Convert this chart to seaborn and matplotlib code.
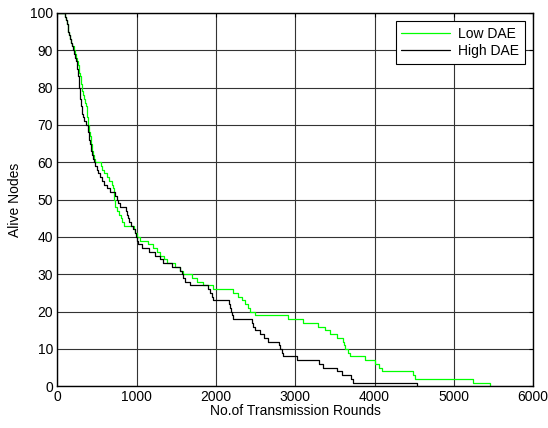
import numpy as np
import pandas as pd
import seaborn as sns
import matplotlib
matplotlib.use("Agg")
import matplotlib.pyplot as plt

# Alive-node counts and the round at which each count is first reached,
# read off the reference chart (one entry per node lost)
alive = [100,
         99, 98, 97, 96, 95, 94, 93, 92, 91, 90,
         89, 88, 87, 86, 85, 84, 83, 82, 81, 80,
         79, 78, 77, 76, 75, 74, 73, 72, 71, 70,
         69, 68, 67, 66, 65, 64, 63, 62, 61, 60,
         59, 58, 57, 56, 55, 54, 53, 52, 51, 50,
         49, 48, 47, 46, 45, 44, 43, 42, 41, 40,
         39, 38, 37, 36, 35, 34, 33, 32, 31, 30,
         29, 28, 27, 26, 25, 24, 23, 22, 21, 20,
         19, 18, 17, 16, 15, 14, 13, 12, 11, 10,
         9, 8, 7, 6, 5, 4, 3, 2, 1, 0]

low_rounds = [0,
              92, 110, 122, 132, 140, 148, 160, 172, 190, 210,
              225, 237, 248, 260, 270, 278, 285, 292, 298, 306,
              314, 320, 330, 348, 360, 369, 374, 378, 382, 388,
              394, 400, 410, 418, 425, 433, 442, 450, 460, 478,
              555, 565, 584, 625, 645, 689, 705, 712, 716, 720,
              724, 728, 750, 773, 800, 820, 840, 960, 983, 1004,
              1046, 1147, 1200, 1252, 1300, 1340, 1378, 1483, 1540, 1588,
              1693, 1757, 1840, 1962, 2218, 2281, 2330, 2366, 2400, 2429,
              2492, 2912, 3101, 3290, 3380, 3438, 3522, 3606, 3615, 3627,
              3660, 3690, 3879, 4005, 4050, 4089, 4490, 4510, 5245, 5455]

high_rounds = [0,
               90, 105, 118, 132, 140, 150, 162, 172, 185, 200,
               215, 225, 233, 242, 250, 258, 264, 268, 274, 278,
               282, 287, 291, 295, 299, 305, 315, 327, 340, 355,
               388, 392, 396, 404, 412, 418, 428, 436, 446, 457,
               475, 495, 518, 541, 565, 584, 625, 667, 730, 752,
               770, 790, 860, 880, 895, 905, 930, 955, 975, 990,
               1000, 1020, 1067, 1150, 1230, 1290, 1336, 1440, 1540, 1567,
               1590, 1609, 1672, 1903, 1930, 1950, 1966, 2170, 2177, 2195,
               2205, 2218, 2450, 2471, 2492, 2555, 2600, 2660, 2790, 2807,
               2830, 2849, 3017, 3300, 3353, 3522, 3585, 3700, 3732, 4531]

series_names = ["Low DAE", "High DAE"]
series_colors = ["#00ff00", "black"]

df = pd.concat([
    pd.DataFrame({"round": low_rounds, "alive": alive, "series": series_names[0]}),
    pd.DataFrame({"round": high_rounds, "alive": alive, "series": series_names[1]}),
])

sns.set_style("white")
plt.rcParams["font.family"] = ["Liberation Sans", "DejaVu Sans"]
plt.rcParams["font.size"] = 10
plt.rcParams["text.color"] = "black"
plt.rcParams["axes.labelcolor"] = "black"

f = plt.figure(figsize=(5.48, 4.28), dpi=100)
ax = f.add_axes([0.1047, 0.0974, 0.8683, 0.8725])

sns.lineplot(
    data=df, x="round", y="alive", hue="series",
    hue_order=series_names, palette=series_colors,
    drawstyle="steps-post", linewidth=0.9, ax=ax, legend=False,
)

ax.set_xlim(0, 6000)
ax.set_ylim(0, 100)
ax.set_xticks(np.arange(0, 6001, 1000))
ax.set_yticks(np.arange(0, 101, 10))
ax.grid(True, color="#333333", linewidth=0.8, linestyle="-")
ax.set_axisbelow(True)
ax.tick_params(direction="in", top=True, right=True, length=3,
               labelsize=10, colors="black", labelcolor="black", pad=3)
for s in ax.spines.values():
    s.set_color("black")
    s.set_linewidth(1.0)

ax.set_xlabel("No.of Transmission Rounds", fontsize=10, labelpad=0, color="black")
ax.set_ylabel("Alive Nodes", fontsize=10, labelpad=6, color="black")

handles = [plt.Line2D([], [], color=c, linewidth=0.9) for c in series_colors]
leg = ax.legend(handles, series_names, loc="upper right", fontsize=10,
                fancybox=False, framealpha=1, edgecolor="black",
                borderaxespad=0.6, handlelength=3.5, borderpad=0.4,
                labelspacing=0.25, handletextpad=0.6)
leg.get_frame().set_linewidth(0.8)
for t in leg.get_texts():
    t.set_color("black")

plt.savefig("out.png", dpi=100)
